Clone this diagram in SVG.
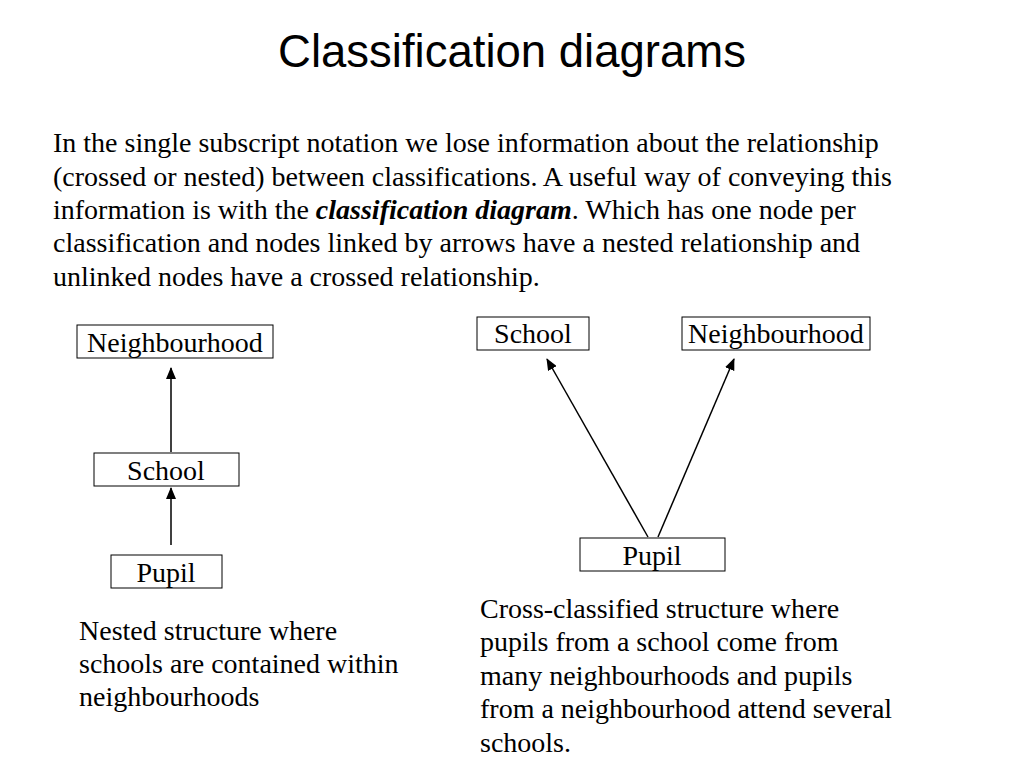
<svg xmlns="http://www.w3.org/2000/svg" width="1024" height="768" viewBox="0 0 1024 768">
<style>
.t{font-family:"Liberation Serif","Times New Roman",serif;font-size:28px;fill:#000}
.box{fill:#fff;stroke:#000;stroke-width:1}
.c{stroke:#000;stroke-width:1.5;fill:none;marker-end:url(#ah)}
</style>
<defs>
<marker id="ah" viewBox="0 0 12 10" refX="11" refY="5" markerWidth="12" markerHeight="10" markerUnits="userSpaceOnUse" orient="auto">
<path d="M0,0 L12,5 L0,10 Z" fill="#000"/>
</marker>
</defs>
<rect width="1024" height="768" fill="#fff"/>
<text x="512" y="67" text-anchor="middle" style="font-family:'Liberation Sans',Arial,sans-serif;font-size:45.5px">Classification diagrams</text>
<text class="t">
<tspan x="53" y="152">In the single subscript notation we lose information about the relationship</tspan>
<tspan x="53" y="186">(crossed or nested) between classifications. A useful way of conveying this</tspan>
<tspan x="53" y="219">information is with the <tspan font-weight="bold" font-style="italic">classification diagram</tspan>. Which has one node per</tspan>
<tspan x="53" y="252">classification and nodes linked by arrows have a nested relationship and</tspan>
<tspan x="53" y="286">unlinked nodes have a crossed relationship.</tspan>
</text>
<g id="connectors">
<line class="c" x1="171" y1="452" x2="171" y2="368"/>
<line class="c" x1="171" y1="545" x2="171" y2="488"/>
<line class="c" x1="648" y1="537" x2="547" y2="359"/>
<line class="c" x1="658" y1="537" x2="734" y2="359"/>
</g>
<g id="left-neighbourhood">
<rect class="box" x="77" y="325" width="196" height="33"/>
<text class="t" x="175" y="352" text-anchor="middle">Neighbourhood</text>
</g>
<g id="left-school">
<rect class="box" x="94" y="453" width="145" height="33"/>
<text class="t" x="166" y="480" text-anchor="middle">School</text>
</g>
<g id="left-pupil">
<rect class="box" x="111" y="555" width="111" height="33"/>
<text class="t" x="166" y="582" text-anchor="middle">Pupil</text>
</g>
<g id="right-school">
<rect class="box" x="477" y="317" width="112" height="33"/>
<text class="t" x="533" y="343" text-anchor="middle">School</text>
</g>
<g id="right-neighbourhood">
<rect class="box" x="682" y="317" width="188" height="33"/>
<text class="t" x="776" y="343" text-anchor="middle">Neighbourhood</text>
</g>
<g id="right-pupil">
<rect class="box" x="580" y="538" width="145" height="33"/>
<text class="t" x="652" y="565" text-anchor="middle">Pupil</text>
</g>
<text class="t">
<tspan x="79" y="640">Nested structure where</tspan>
<tspan x="79" y="673">schools are contained within</tspan>
<tspan x="79" y="706">neighbourhoods</tspan>
</text>
<text class="t">
<tspan x="480" y="618">Cross-classified structure where</tspan>
<tspan x="480" y="651">pupils from a school come from</tspan>
<tspan x="480" y="685">many neighbourhoods and pupils</tspan>
<tspan x="480" y="718">from a neighbourhood attend several</tspan>
<tspan x="480" y="752">schools.</tspan>
</text>
</svg>
